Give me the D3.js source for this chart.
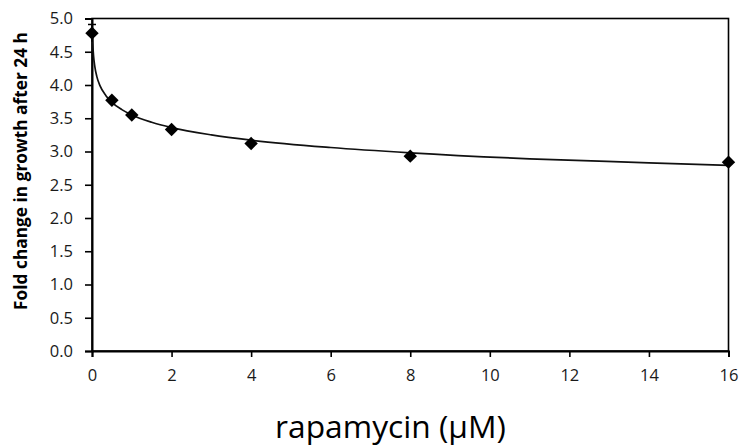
<!DOCTYPE html>
<html><head><meta charset="utf-8">
<script src="https://cdn.jsdelivr.net/npm/d3@7"></script>
<style>body{margin:0;background:#fff}svg{display:block}</style>
</head><body>
<script>
// Data
const concentrations = [0, 0.5, 1, 2, 4, 8, 16];
const foldChange = [4.78, 3.77, 3.55, 3.33, 3.12, 2.93, 2.84];
const errorBars = [0.13, 0, 0, 0, 0, 0, 0];
// trendline
const fitX = [0.012, 0.02, 0.04, 0.07, 0.12, 0.2, 0.35, 0.5, 0.75, 1, 1.5, 2, 3, 4, 6, 8, 11, 14, 16];
const fitY = [4.76, 4.62, 4.43, 4.28, 4.13, 3.99, 3.84, 3.74, 3.63, 3.55, 3.44, 3.36, 3.25, 3.17, 3.06, 2.98, 2.89, 2.83, 2.79];
const xTicks = [0, 2, 4, 6, 8, 10, 12, 14, 16];
const yTicks = [0, 0.5, 1, 1.5, 2, 2.5, 3, 3.5, 4, 4.5, 5];
const xTitle = "rapamycin (µM)";
const yTitle = "Fold change in growth after 24 h";

const W = 740, H = 446;
const m = {l: 92, r: 740 - 728.5, t: 18.5, b: 446 - 351};
const svg = d3.select("body").append("svg").attr("width", W).attr("height", H);
const x = d3.scaleLinear().domain([0, 16]).range([m.l, W - m.r]);
const y = d3.scaleLinear().domain([0, 5]).range([H - m.b, m.t]);
const font = "'Open Sans', sans-serif";

function fitText(sel, target) {
  const fs = parseFloat(sel.style("font-size"));
  const len = sel.node().getComputedTextLength();
  if (len > 0) sel.style("font-size", (fs * target / len) + "px");
}

// frame
svg.append("rect").attr("x", x(0)).attr("y", y(5)).attr("width", x(16) - x(0)).attr("height", y(0) - y(5))
  .attr("fill", "none").attr("stroke", "#000").attr("stroke-width", 1.6);

const xa = svg.append("g").attr("transform", `translate(0,${y(0)})`)
  .call(d3.axisBottom(x).tickValues(xTicks).tickFormat(d3.format("d")).tickSize(6).tickPadding(8));
const ya = svg.append("g").attr("transform", `translate(${x(0)},0)`)
  .call(d3.axisLeft(y).tickValues(yTicks).tickFormat(d3.format(".1f")).tickSize(7).tickPadding(12));
[xa, ya].forEach(g => {
  g.select(".domain").attr("stroke", "#000").attr("stroke-width", 2);
  g.selectAll(".tick line").attr("stroke", "#000").attr("stroke-width", 1.6);
  g.selectAll(".tick text").attr("fill", "#1a1a1a").style("font-family", font).style("font-size", "16.5px");
});
xa.selectAll(".tick text").attr("dy", "0.95em");

// trendline
const line = d3.line().x((d, i) => x(fitX[i])).y(d => y(d)).curve(d3.curveMonotoneX);
svg.append("path").datum(fitY).attr("d", line).attr("fill", "none").attr("stroke", "#111").attr("stroke-width", 1.7);

// error bars
concentrations.forEach((c, i) => {
  if (errorBars[i] > 0) {
    const g = svg.append("g").attr("stroke", "#000").attr("stroke-width", 1.5);
    g.append("line").attr("x1", x(c)).attr("x2", x(c)).attr("y1", y(foldChange[i] + errorBars[i])).attr("y2", y(foldChange[i] - errorBars[i]));
    g.append("line").attr("x1", x(c) - 4).attr("x2", x(c) + 4).attr("y1", y(foldChange[i] + errorBars[i])).attr("y2", y(foldChange[i] + errorBars[i]));
  }
});

// markers
const diamond = d3.symbol().type(d3.symbolDiamond2).size(115);
svg.selectAll(".pt").data(foldChange).join("path")
  .attr("transform", (d, i) => `translate(${x(concentrations[i])},${y(d)})`)
  .attr("d", diamond).attr("fill", "#000");

// titles
const xt = svg.append("text").attr("x", 390.5).attr("y", 438).attr("text-anchor", "middle")
  .style("font-family", font).style("font-size", "29px").attr("fill", "#000").text(xTitle);
fitText(xt, 231);
const yt = svg.append("text").attr("transform", `translate(27,171) rotate(-90)`).attr("text-anchor", "middle")
  .style("font-family", font).style("font-size", "14px").style("font-weight", "bold").attr("fill", "#000").text(yTitle);
fitText(yt, 278);
</script>
</body></html>
